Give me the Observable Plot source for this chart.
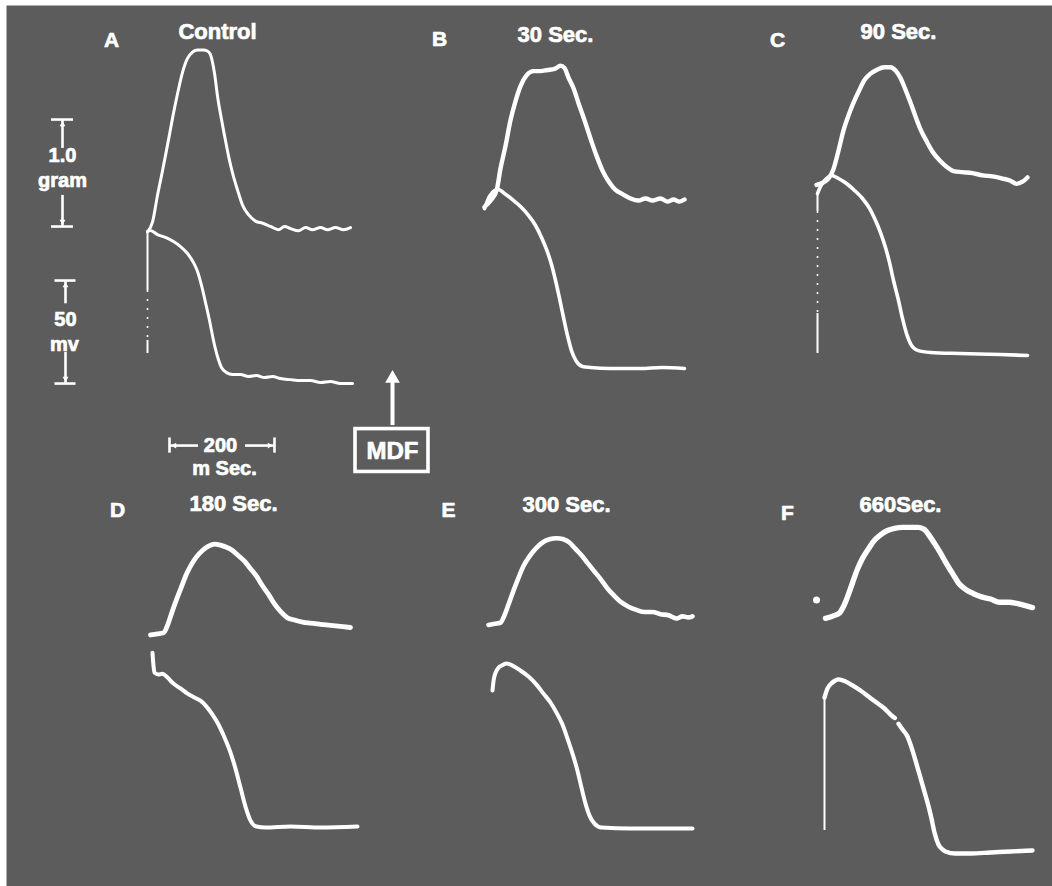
<!DOCTYPE html>
<html><head><meta charset="utf-8">
<script src="https://cdn.jsdelivr.net/npm/d3@7"></script>
<script src="https://cdn.jsdelivr.net/npm/@observablehq/plot@0.6"></script>
<style>
html,body{margin:0;padding:0;background:#fff;}
#chart svg{display:block;}
</style></head><body><div id="chart"></div>
<script>
// Panels and their titles
const panels = ["A","B","C","D","E","F"];
const titles = ["Control","30 Sec.","90 Sec.","180 Sec.","300 Sec.","660Sec."];

// Tension traces: [ms after stimulus, grams above resting tension]
const tensionA = [[0,-0.03],[9.5,0.06],[19.0,0.31],[28.6,0.54],[38.1,0.78],[47.6,1.03],[57.2,1.26],[66.7,1.46],[76.2,1.59],[85.7,1.65],[95.3,1.67],[106.7,1.67],[114.0,1.66],[119.5,1.63],[124.0,1.55],[128.0,1.44],[133.3,1.24],[139.1,1.07],[146.7,0.87],[154.3,0.68],[161.9,0.52],[171.5,0.36],[181.0,0.22],[192.4,0.13],[205.7,0.07],[219.1,0.05],[234.3,0.02],[249.5,-0.01],[261.0,0.02],[272.4,0],[287.7,-0.02],[301.0,0.01],[314.3,-0.01],[329.6,0.01],[342.9,-0.01],[358.1,0.01],[373.4,-0.01],[386.7,0.01]];
const tensionB = [[1.9,-0.06],[13.3,0],[24.8,0.09],[32.4,0.30],[41.9,0.51],[51.4,0.75],[61.0,0.93],[70.5,1.07],[81.9,1.17],[95.3,1.21],[108.6,1.21],[121.9,1.22],[135.2,1.23],[146.7,1.26],[154.3,1.24],[161.9,1.15],[171.5,1.05],[181.0,0.91],[192.4,0.75],[203.8,0.58],[215.2,0.42],[226.7,0.28],[238.1,0.18],[251.4,0.10],[264.8,0.06],[280.0,0.02],[295.3,0],[308.6,0.02],[321.9,0],[337.1,0.02],[350.5,-0.01],[361.9,0.01],[373.3,-0.01],[382.8,0.01]];
const tensionC = [[-1.9,-0.06],[9.5,-0.04],[21.0,0],[30.5,0.09],[40.0,0.26],[49.5,0.45],[59.0,0.59],[68.6,0.71],[78.1,0.81],[89.5,0.92],[101.0,0.98],[114.3,1.02],[127.6,1.04],[139.1,1.04],[148.6,1.01],[158.1,0.94],[167.6,0.83],[177.1,0.71],[186.7,0.58],[196.2,0.46],[207.6,0.35],[219.1,0.25],[232.4,0.17],[245.7,0.11],[259.1,0.07],[276.2,0.06],[295.3,0.05],[314.3,0.03],[333.3,0.02],[352.4,0],[367.6,-0.02],[379.0,-0.05],[390.5,-0.03],[400.0,0.01]];
const tensionD = [[-3.8,-0.07],[9.5,-0.06],[21.0,-0.05],[28.6,0.02],[36.2,0.13],[45.7,0.26],[55.2,0.38],[64.8,0.50],[74.3,0.59],[83.8,0.66],[95.2,0.72],[106.7,0.76],[118.1,0.78],[129.5,0.77],[141.0,0.75],[152.4,0.72],[163.8,0.67],[175.2,0.62],[186.7,0.55],[198.1,0.48],[209.5,0.39],[221.0,0.31],[232.4,0.22],[243.8,0.15],[257.1,0.09],[270.5,0.07],[285.7,0.05],[300.9,0.04],[320.0,0.03],[339.0,0.02],[358.1,0.01],[377.1,0]];
const tensionE = [[-3.8,-0.07],[7.6,-0.06],[19.0,-0.05],[26.7,0.02],[34.3,0.12],[43.8,0.25],[53.3,0.37],[62.9,0.48],[74.3,0.57],[85.7,0.64],[99.1,0.70],[112.4,0.73],[125.7,0.74],[139.0,0.73],[150.5,0.70],[161.9,0.64],[173.3,0.58],[184.8,0.51],[196.2,0.44],[209.5,0.36],[222.9,0.27],[236.2,0.20],[249.5,0.14],[262.9,0.10],[278.1,0.07],[293.3,0.05],[308.6,0.05],[323.8,0.03],[339.0,0.02],[354.3,-0.01],[365.7,0.01],[377.1,0],[384.8,0.01]];
const tensionF = [[1.9,-0.12],[15.2,-0.10],[28.6,-0.07],[36.2,-0.01],[43.8,0.08],[53.3,0.21],[62.9,0.34],[72.4,0.44],[83.8,0.53],[95.2,0.61],[106.7,0.66],[120.0,0.70],[133.3,0.72],[148.6,0.73],[163.8,0.73],[179.0,0.73],[190.5,0.71],[200.0,0.65],[209.5,0.58],[221.0,0.49],[232.4,0.39],[243.8,0.30],[255.2,0.21],[268.6,0.15],[283.8,0.11],[299.0,0.08],[316.2,0.06],[333.3,0.03],[350.5,0.03],[365.7,0.02],[381.0,0],[396.2,-0.02]];
// stray spot before trace F
const spotF = [[-15.2,0.05]];

// Action potentials: [ms after stimulus, mV above resting potential]
const apA = [[0,73.8],[5.7,74.3],[19.0,72.3],[34.3,70.9],[49.5,68.9],[62.9,66.5],[76.2,63.1],[87.6,58.7],[95.3,54.4],[102.9,47.6],[110.5,39.3],[118.1,30.6],[125.7,20.9],[133.3,13.1],[140.9,7.8],[150.5,5.3],[161.9,4.4],[177.1,4.4],[192.4,3.4],[207.6,3.9],[222.9,2.9],[238.1,3.4],[253.3,2.4],[272.4,1.9],[291.5,1.5],[310.5,1.5],[329.6,0.5],[348.6,1.0],[367.6,0],[390.5,0]];
const apB = [[1.9,77.6],[11.4,83.5],[21.0,86.4],[28.6,86.9],[40.0,84.9],[55.2,82.0],[70.5,78.6],[85.7,74.3],[99.1,69.4],[110.5,63.6],[120.0,57.8],[129.5,50.5],[137.2,42.7],[144.8,34.0],[152.4,24.8],[160.0,16.0],[167.6,8.7],[177.1,3.4],[188.6,1.0],[203.8,0.5],[241.9,0],[299.1,0],[340.0,0.5],[382.8,0]];
const apC = [[0,77.6],[5.7,81.0],[15.2,84.4],[26.7,86.4],[40.0,84.9],[55.2,82.5],[70.5,79.1],[85.7,75.2],[99.1,70.4],[110.5,64.5],[120.0,58.7],[129.5,51.4],[137.1,44.2],[144.8,35.4],[154.3,25.7],[161.9,17.0],[169.5,9.7],[179.0,3.9],[190.5,1.5],[215.2,0.5],[272.4,0],[348.6,-0.5],[400.0,-1.0]];
const apD = [[0,84.9],[1.9,78.6],[3.8,75.2],[11.4,74.3],[19.0,74.7],[28.6,72.8],[40.0,69.9],[53.3,67.5],[66.7,65.0],[80.0,63.1],[91.4,61.6],[102.9,58.7],[114.3,54.8],[125.7,50.0],[137.1,43.7],[148.6,36.4],[158.1,28.6],[167.6,19.4],[177.1,10.2],[186.7,3.4],[198.1,0.5],[215.2,0],[262.9,0.5],[320.0,0],[390.5,0.5]];
const apE = [[3.8,67.0],[6.0,72.0],[10.0,75.8],[15.0,78.0],[21.0,79.1],[30.5,80.1],[41.9,79.1],[57.1,76.7],[72.4,73.8],[87.6,69.9],[101.0,65.5],[114.3,61.2],[125.7,56.3],[137.1,50.5],[146.7,43.7],[156.2,36.4],[165.7,28.1],[173.3,19.9],[181.0,12.1],[188.6,6.3],[198.1,2.4],[211.4,0.5],[266.7,0],[323.8,0],[384.8,0]];
const apF = [[0,74.7],[5.7,79.1],[15.2,82.0],[26.7,83.5],[40.0,82.5],[53.3,80.6],[68.6,78.1],[83.8,75.2],[99.0,72.3],[114.3,69.4],[127.6,66.0],[134.0,64.8],[134.5,NaN],[141.0,62.0],[148.6,59.2],[158.1,55.8],[165.7,50.5],[173.3,44.2],[181.0,37.4],[188.6,30.6],[196.2,23.8],[203.8,16.0],[209.5,9.2],[217.1,3.4],[224.8,1.0],[230.5,0],[249.5,-1.0],[278.1,-1.0],[316.2,-0.5],[354.3,0],[396.2,0.5]];

// Stimulus artifacts on the action-potential channel: [panel, from mV, to mV, dotted?]
const artifacts = [["A",72.8,45.1,false],["A",45.1,20.9,true],["A",20.9,14.6,false],
                   ["C",77.6,68.9,false],["C",68.9,19.4,true],["C",19.4,0,false],
                   ["F",74.7,10.2,false]];

// Calibration values
const gramBar = 1.0;   // gram
const mvBar = 50;      // mV
const msBar = 200;     // ms

// ---- layout (display units: x in ms, y in mV; 1 gram drawn as 51.93 mV) ----
const MV_PER_GRAM = 51.93;
const BG = "#5c5c5c";
const FONT = "Liberation Sans, Arial, sans-serif";
const layout = {
  A:{t0:280.0, tb:319.3, ab:244.1, wT:3.0, wA:3.0, lx:211.4, ly:410.6, tx:413.3, ty:414.5},
  B:{t0:920.0, tb:332.9, ab:251.4, wT:4.4, wA:3.6, lx:836.2, ly:411.1, tx:1057.1, ty:413.5},
  C:{t0:1556.2,tb:343.6, ab:258.7, wT:4.4, wA:3.6, lx:1480.0,ly:410.6, tx:1710.5, ty:414.9},
  D:{t0:289.5, tb:125.7, ab:28.6,  wT:4.8, wA:4.0, lx:222.9, ly:182.5, tx:443.8, ty:185.9},
  E:{t0:933.3, tb:130.6, ab:28.1,  wT:4.6, wA:4.0, lx:853.3, ly:182.5, tx:1078.1, ty:185.4},
  F:{t0:1569.5,tb:136.4, ab:17.0,  wT:5.4, wA:4.4, lx:1499.0,ly:181.0, tx:1714.3, ty:185.4}
};
const tensions = {A:tensionA,B:tensionB,C:tensionC,D:tensionD,E:tensionE,F:tensionF};
const aps = {A:apA,B:apB,C:apC,D:apD,E:apE,F:apF};

const marks = [Plot.frame({fill: BG, stroke: "none"})];

for (const p of panels) {
  const L = layout[p];
  const tRows = tensions[p].map(([t,g]) => ({x: L.t0 + t, y: L.tb + g * MV_PER_GRAM}));
  const aRows = aps[p].map(([t,v]) => ({x: L.t0 + t, y: L.ab + v}));
  marks.push(Plot.line(tRows, {x:"x", y:"y", stroke:"white", strokeWidth:L.wT, curve:"monotone-x", strokeLinecap:"round", strokeLinejoin:"round"}));
  marks.push(Plot.line(aRows, {x:"x", y:"y", stroke:"white", strokeWidth:L.wA, curve:"monotone-x", strokeLinecap:"round", strokeLinejoin:"round"}));
}
// stimulus artifacts
const artRows = artifacts.map(([p,a,b,d]) => ({x: layout[p].t0, y1: layout[p].ab + a, y2: layout[p].ab + b, d}));
marks.push(Plot.ruleX(artRows.filter(r => !r.d), {x:"x", y1:"y1", y2:"y2", stroke:"white", strokeWidth:2}));
marks.push(Plot.ruleX(artRows.filter(r => r.d), {x:"x", y1:"y1", y2:"y2", stroke:"white", strokeWidth:1.6, strokeDasharray:"2 7"}));
// stray spot
marks.push(Plot.dot(spotF.map(([t,g]) => ({x: layout.F.t0 + t, y: layout.F.tb + g*MV_PER_GRAM})), {x:"x", y:"y", r:3.5, fill:"white"}));

// panel letters and titles
const labelRows = panels.map((p,i) => ({p, t: titles[i], L: layout[p]}));
const txt = {fill:"white", stroke:"white", strokeWidth:0.7, fontWeight:"bold", fontFamily:FONT, textAnchor:"middle", lineAnchor:"middle"};
marks.push(Plot.text(labelRows, {...txt, x:d=>d.L.lx, y:d=>d.L.ly, text:"p", fontSize:21}));
marks.push(Plot.text(labelRows, {...txt, x:d=>d.L.tx, y:d=>d.L.ty, text:"t", fontSize:22}));

// ---- calibration bars ----
const gX = 118.1, gBot = 320.3, gTop = gBot + gramBar * MV_PER_GRAM;
const mX = 123.8, mBot = 244.1, mTop = mBot + mvBar;
const sY = 214.0, sL = 321.9, sR = sL + msBar;
const barW = 2.6;
marks.push(Plot.ruleY([{y:gTop},{y:gBot}], {y:"y", x1:gX-21, x2:gX+21, stroke:"white", strokeWidth:barW}));
marks.push(Plot.ruleY([{y:mTop},{y:mBot}], {y:"y", x1:mX-20, x2:mX+20, stroke:"white", strokeWidth:barW}));
marks.push(Plot.ruleX([{y1:gTop,y2:358.2},{y1:335.4,y2:gBot}], {x:gX, y1:"y1", y2:"y2", stroke:"white", strokeWidth:barW}));
marks.push(Plot.ruleX([{y1:mTop,y2:282.8},{y1:259.2,y2:mBot}], {x:mX, y1:"y1", y2:"y2", stroke:"white", strokeWidth:barW}));
marks.push(Plot.ruleX([{x:sL},{x:sR}], {x:"x", y1:sY-3.7, y2:sY+3.7, stroke:"white", strokeWidth:barW}));
marks.push(Plot.ruleY([{x1:sL,x2:377.1},{x1:466.7,x2:sR}], {y:sY, x1:"x1", x2:"x2", stroke:"white", strokeWidth:barW}));
// arrowheads
const head = {symbol:"triangle2", fill:"white", r:2.8};
marks.push(Plot.dot([{x:gX,y:gTop},{x:mX,y:mTop}], {...head, x:"x", y:"y", rotate:0, dy:5}));
marks.push(Plot.dot([{x:gX,y:gBot},{x:mX,y:mBot}], {...head, x:"x", y:"y", rotate:180, dy:-5}));
marks.push(Plot.dot([{x:sL,y:sY}], {...head, x:"x", y:"y", rotate:-90, dx:5}));
marks.push(Plot.dot([{x:sR,y:sY}], {...head, x:"x", y:"y", rotate:90, dx:-5}));
// calibration labels
marks.push(Plot.text([
  {x:gX, y:354.6, t:`${gramBar.toFixed(1)}`},
  {x:gX, y:342.4, t:"gram"},
  {x:mX, y:275.0, t:`${mvBar}`},
  {x:121.9, y:262.8, t:"mv"},
  {x:419.0, y:sY, t:`${msBar}`},
  {x:426.7, y:202.6, t:"m Sec."}
], {...txt, x:"x", y:"y", text:"t", fontSize:20}));

// ---- MDF marker ----
const mdfX = 746.7;
marks.push(Plot.ruleX([{x:mdfX}], {x:"x", y1:223.7, y2:246.0, stroke:"white", strokeWidth:4}));
marks.push(Plot.dot([{x:mdfX, y:251.4}], {x:"x", y:"y", symbol:"triangle2", fill:"white", r:7, dy:10}));
marks.push(Plot.rect([{x1:676.2, x2:815.2, y1:201.2, y2:222.0}], {x1:"x1", x2:"x2", y1:"y1", y2:"y2", fill:"none", stroke:"white", strokeWidth:3.6}));
marks.push(Plot.text([{x:mdfX, y:211.4, t:"MDF"}], {...txt, x:"x", y:"y", text:"t", fontSize:24}));

const chart = Plot.plot({
  width: 1052, height: 886,
  marginTop: 5, marginLeft: 6, marginRight: 0, marginBottom: 0,
  x: {domain: [0, 2000], range: [0, 1050], axis: null},
  y: {domain: [0, 430], range: [886, 0], axis: null},
  style: {background: "white", overflow: "visible"},
  marks
});
document.getElementById("chart").append(chart);
</script></body></html>
